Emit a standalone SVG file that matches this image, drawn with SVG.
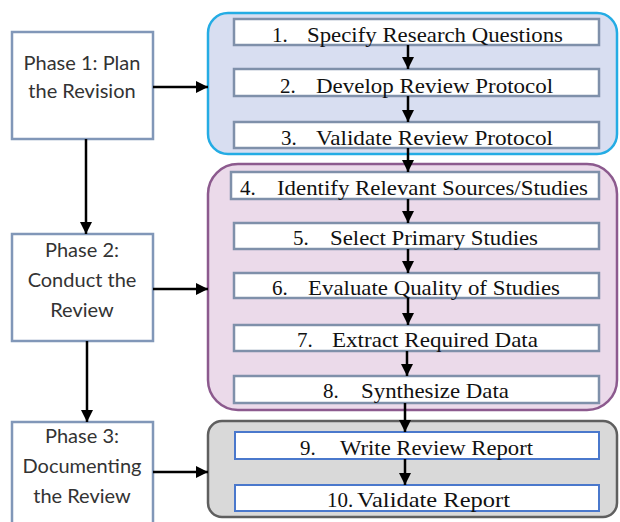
<svg xmlns="http://www.w3.org/2000/svg" width="620" height="522" viewBox="0 0 620 522">
<defs>
<style>
.phase{fill:#ffffff;stroke:#8197b8;stroke-width:2.5}
.step{fill:#ffffff;stroke:#7f90aa;stroke-width:2.5}
.step3{fill:#ffffff;stroke:#4a78cc;stroke-width:2}
.pt{font-family:Lato,"Open Sans","Liberation Sans",sans-serif;font-size:20px;fill:#333333;text-anchor:middle}
.st{font-family:"Liberation Serif",serif;font-size:21px;fill:#111111}
.conn{stroke:#000000;stroke-width:2.5;fill:none}
</style>
<marker id="ah" viewBox="0 0 10 10" refX="10" refY="5" markerWidth="5" markerHeight="5" markerUnits="strokeWidth" orient="auto">
<path d="M0,0 L10,5 L0,10 z" fill="#000000"/>
</marker>
</defs>
<rect width="620" height="522" fill="#ffffff"/>

<g id="group1">
<rect x="208" y="13" width="409" height="141" rx="20" fill="#d8def1" stroke="#24ace4" stroke-width="2.5"/>
</g>
<g id="group2">
<rect x="208" y="164" width="409" height="246" rx="30" fill="#ebdaea" stroke="#8c5a8e" stroke-width="2.5"/>
</g>
<g id="group3">
<rect x="208" y="421" width="409" height="96" rx="14" fill="#d9d9d9" stroke="#5f5f5f" stroke-width="2.5"/>
</g>

<g id="phase1">
<rect class="phase" x="12" y="32" width="141" height="107"/>
<text class="pt" x="82" y="70">Phase 1: Plan</text>
<text class="pt" x="82" y="98">the Revision</text>
</g>
<g id="phase2">
<rect class="phase" x="12" y="234" width="141" height="107"/>
<text class="pt" x="82" y="257">Phase 2:</text>
<text class="pt" x="82" y="287">Conduct the</text>
<text class="pt" x="82" y="317">Review</text>
</g>
<g id="phase3">
<rect class="phase" x="12" y="422" width="141" height="110"/>
<text class="pt" x="82" y="443">Phase 3:</text>
<text class="pt" x="82" y="473">Documenting</text>
<text class="pt" x="82" y="503">the Review</text>
</g>

<g id="step1">
<rect class="step" x="234" y="19" width="365" height="26"/>
<text class="st" y="42"><tspan x="272">1.</tspan><tspan x="307" textLength="256" lengthAdjust="spacingAndGlyphs">Specify Research Questions</tspan></text>
</g>
<g id="step2">
<rect class="step" x="234" y="69" width="365" height="27"/>
<text class="st" y="93"><tspan x="280">2.</tspan><tspan x="316" textLength="237" lengthAdjust="spacingAndGlyphs">Develop Review Protocol</tspan></text>
</g>
<g id="step3">
<rect class="step" x="234" y="122" width="365" height="26"/>
<text class="st" y="145"><tspan x="281">3.</tspan><tspan x="316" textLength="237" lengthAdjust="spacingAndGlyphs">Validate Review Protocol</tspan></text>
</g>
<g id="step4">
<rect class="step" x="231" y="172" width="368" height="27"/>
<text class="st" y="195"><tspan x="240">4.</tspan><tspan x="277" textLength="311" lengthAdjust="spacingAndGlyphs">Identify Relevant Sources/Studies</tspan></text>
</g>
<g id="step5">
<rect class="step" x="234" y="223" width="365" height="26"/>
<text class="st" y="245"><tspan x="293">5.</tspan><tspan x="330" textLength="208" lengthAdjust="spacingAndGlyphs">Select Primary Studies</tspan></text>
</g>
<g id="step6">
<rect class="step" x="234" y="273" width="365" height="25"/>
<text class="st" y="295"><tspan x="272">6.</tspan><tspan x="308" textLength="252" lengthAdjust="spacingAndGlyphs">Evaluate Quality of Studies</tspan></text>
</g>
<g id="step7">
<rect class="step" x="234" y="325" width="365" height="26"/>
<text class="st" y="347"><tspan x="297">7.</tspan><tspan x="332" textLength="206" lengthAdjust="spacingAndGlyphs">Extract Required Data</tspan></text>
</g>
<g id="step8">
<rect class="step" x="234" y="376" width="365" height="27"/>
<text class="st" y="398"><tspan x="323">8.</tspan><tspan x="361" textLength="148" lengthAdjust="spacingAndGlyphs">Synthesize Data</tspan></text>
</g>
<g id="step9">
<rect class="step3" x="235" y="432" width="364" height="27"/>
<text class="st" y="455"><tspan x="300">9.</tspan><tspan x="340" textLength="193" lengthAdjust="spacingAndGlyphs">Write Review Report</tspan></text>
</g>
<g id="step10">
<rect class="step3" x="235" y="485" width="364" height="26"/>
<text class="st" y="507"><tspan x="327">10.</tspan><tspan x="357" textLength="153" lengthAdjust="spacingAndGlyphs">Validate Report</tspan></text>
</g>

<g id="connectors">
<line class="conn" x1="153" y1="87" x2="208" y2="87" marker-end="url(#ah)"/>
<line class="conn" x1="153" y1="289" x2="208" y2="289" marker-end="url(#ah)"/>
<line class="conn" x1="153" y1="472" x2="208" y2="472" marker-end="url(#ah)"/>
<line class="conn" x1="86" y1="139" x2="86" y2="234" marker-end="url(#ah)"/>
<line class="conn" x1="87" y1="341" x2="87" y2="422" marker-end="url(#ah)"/>
<line class="conn" x1="408" y1="45" x2="408" y2="69" marker-end="url(#ah)"/>
<line class="conn" x1="408" y1="96" x2="408" y2="122" marker-end="url(#ah)"/>
<line class="conn" x1="408" y1="148" x2="408" y2="172" marker-end="url(#ah)"/>
<line class="conn" x1="408" y1="199" x2="408" y2="223" marker-end="url(#ah)"/>
<line class="conn" x1="408" y1="249" x2="408" y2="273" marker-end="url(#ah)"/>
<line class="conn" x1="408" y1="298" x2="408" y2="325" marker-end="url(#ah)"/>
<line class="conn" x1="407" y1="351" x2="407" y2="376" marker-end="url(#ah)"/>
<line class="conn" x1="405" y1="403" x2="405" y2="432" marker-end="url(#ah)"/>
<line class="conn" x1="405" y1="459" x2="405" y2="485" marker-end="url(#ah)"/>
</g>
</svg>
